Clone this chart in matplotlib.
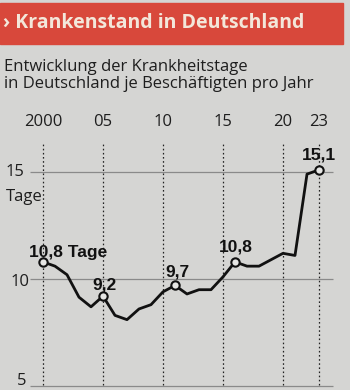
import matplotlib
matplotlib.use("Agg")
import matplotlib.pyplot as plt
from matplotlib.patches import Rectangle

# data
years = list(range(2000, 2024))
tage = [10.8, 10.6, 10.2, 9.15, 8.7, 9.2, 8.3, 8.1, 8.6, 8.8, 9.4, 9.7,
        9.3, 9.5, 9.5, 10.1, 10.8, 10.6, 10.6, 10.9, 11.2, 11.1, 14.9, 15.1]
marked_years = [2000, 2005, 2011, 2016, 2023]
marked_labels = ["10,8 Tage", "9,2", "9,7", "10,8", "15,1"]
tick_years = [2000, 2005, 2010, 2015, 2020, 2023]
tick_labels = ["2000", "05", "10", "15", "20", "23"]
grid_values = [5, 10, 15]

W, H = 350, 390
fig = plt.figure(figsize=(W / 100, H / 100), dpi=100)
fig.patch.set_facecolor("#d5d5d3")

# axes spans the whole figure, limits chosen so 2000 -> x=43px, 12px/year
ax = fig.add_axes([0, 0, 1, 1])
ax.set_facecolor("none")
ax.axis("off")
ax.set_xlim(2000 - 43 / 12, 2000 + 307 / 12)
ax.set_ylim(10 - 111 / 21.4, 10 + 279 / 21.4)

# header band
fig.patches.append(Rectangle((0, 1 - 44 / H), 343 / W, 41 / H,
                             transform=fig.transFigure, color="#d8483b", zorder=0))
fig.text(3 / W, 1 - 23 / H, "› Krankenstand in Deutschland", fontsize=14,
         fontweight="bold", color="#f3e7da", va="center", ha="left",
         family="Open Sans")
fig.text(4 / W, 1 - 67 / H, "Entwicklung der Krankheitstage", fontsize=12,
         color="#1e1e1e", va="center", family="Open Sans")
fig.text(4 / W, 1 - 84 / H, "in Deutschland je Beschäftigten pro Jahr",
         fontsize=12, color="#1e1e1e", va="center", family="Open Sans")

# grid lines
for v in grid_values:
    ax.hlines(v, 1998.9, 2024.2, color="#8a8a8a", lw=0.9, zorder=1)
ax.vlines(tick_years, 5.05, 16.35, colors="#222222", lw=0.9,
          linestyles=(0, (1.3, 2)), zorder=1)

# year labels
for yr, lab in zip(tick_years, tick_labels):
    ax.text(yr, 10 + (279 - 122) / 21.4, lab, ha="center", va="center",
            fontsize=12, color="#1e1e1e", family="Open Sans")

# value labels on the left
ax.text(1996.9, 15, "15", ha="left", va="center", fontsize=12,
        color="#1e1e1e", family="Open Sans")
ax.text(1996.9, 13.83, "Tage", ha="left", va="center", fontsize=12,
        color="#1e1e1e", family="Open Sans")
ax.text(1997.3, 9.85, "10", ha="left", va="center", fontsize=12,
        color="#1e1e1e", family="Open Sans")
ax.text(1997.8, 10 - 110 / 21.4, "5", ha="left", va="bottom", fontsize=12,
        color="#1e1e1e", family="Open Sans")

# the line
ax.plot(years, tage, color="#111111", lw=2.0, zorder=3, solid_joinstyle="round")
mv = [tage[years.index(y)] for y in marked_years]
ax.plot(marked_years, mv, "o", ms=6, mfc="#e6e6e4", mec="#111111",
        mew=1.5, zorder=4)

offsets = [(2.1, 0.46), (0.15, 0.52), (0.2, 0.63), (0.1, 0.7), (0.0, 0.69)]
for yr, v, lab, (dx, dy) in zip(marked_years, mv, marked_labels, offsets):
    ax.text(yr + dx, v + dy, lab, ha="center", va="center", fontsize=12.5,
            fontweight="bold", color="#111111", family="Liberation Sans")

fig.savefig("out.png", dpi=100, facecolor=fig.get_facecolor())
